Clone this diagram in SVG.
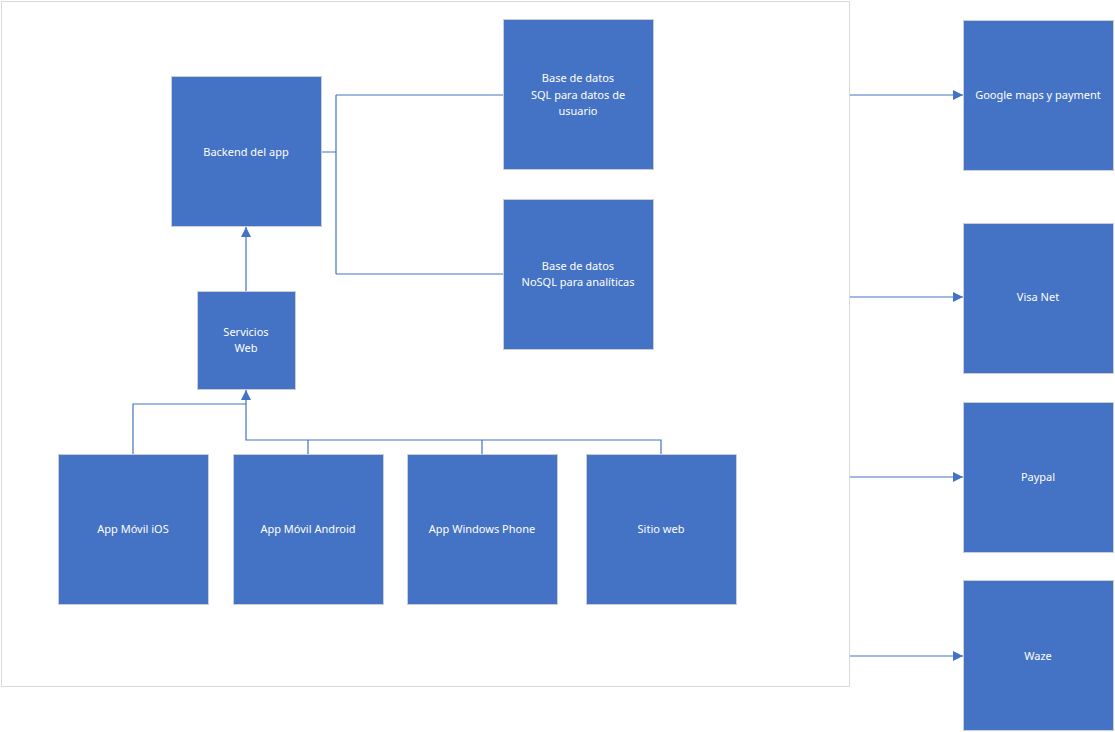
<svg xmlns="http://www.w3.org/2000/svg" width="1115" height="732" viewBox="0 0 1115 732">
<defs>
<marker id="arr" viewBox="0 0 10 10" refX="10" refY="5" markerWidth="10" markerHeight="10" markerUnits="userSpaceOnUse" orient="auto">
<path d="M0,0 L10,5 L0,10 Z" fill="#4472C4"/>
</marker>
<style>
.box{fill:#4472C4;stroke:#C9CED6;stroke-width:1}
.t{font-family:"Noto Sans","Open Sans","Liberation Sans",sans-serif;font-size:11px;fill:#FFFFFF;text-anchor:middle}
.c{fill:none;stroke:#4472C4;stroke-width:1.2}
.ca{fill:none;stroke:#4472C4;stroke-width:1.2;marker-end:url(#arr)}
</style>
</defs>
<rect width="1115" height="732" fill="#FFFFFF"/>
<rect id="container" x="1.5" y="1.5" width="848" height="685" fill="none" stroke="#D9D9D9" stroke-width="1"/>
<g id="connectors">
<path class="c" d="M321,152 H336 M336,95 V274 M336,95 H503 M336,274 H503"/>
<path class="ca" d="M246,291 V227"/>
<path class="ca" d="M133,454 V404 H246 V390"/>
<path class="c" d="M246,404 V440 H661 V454 M308,440 V454 M482,440 V454"/>
<path class="ca" d="M850,95 H963"/>
<path class="ca" d="M850,297 H963"/>
<path class="ca" d="M850,477 H963"/>
<path class="ca" d="M850,656 H963"/>
</g>
<g id="backend"><rect class="box" x="171.5" y="76.5" width="150" height="150"/><text class="t" x="246" y="156">Backend del app</text></g>
<g id="sql"><rect class="box" x="503.5" y="19.5" width="150" height="150"/><text class="t" x="578" y="82">Base de datos</text><text class="t" x="578" y="99">SQL para datos de</text><text class="t" x="578" y="115">usuario</text></g>
<g id="nosql"><rect class="box" x="503.5" y="199.5" width="150" height="150"/><text class="t" x="578" y="270">Base de datos</text><text class="t" x="578" y="286">NoSQL para analíticas</text></g>
<g id="servicios"><rect class="box" x="197.5" y="291.5" width="98" height="98"/><text class="t" x="246" y="336">Servicios</text><text class="t" x="246" y="352">Web</text></g>
<g id="ios"><rect class="box" x="58.5" y="454.5" width="150" height="150"/><text class="t" x="133" y="533">App Móvil iOS</text></g>
<g id="android"><rect class="box" x="233.5" y="454.5" width="150" height="150"/><text class="t" x="308" y="533">App Móvil Android</text></g>
<g id="windows"><rect class="box" x="407.5" y="454.5" width="150" height="150"/><text class="t" x="482" y="533">App Windows Phone</text></g>
<g id="sitio"><rect class="box" x="586.5" y="454.5" width="150" height="150"/><text class="t" x="661" y="533">Sitio web</text></g>
<g id="google"><rect class="box" x="963.5" y="20.5" width="150" height="150"/><text class="t" x="1038" y="99">Google maps y payment</text></g>
<g id="visa"><rect class="box" x="963.5" y="223.5" width="150" height="150"/><text class="t" x="1038" y="301">Visa Net</text></g>
<g id="paypal"><rect class="box" x="963.5" y="402.5" width="150" height="150"/><text class="t" x="1038" y="481">Paypal</text></g>
<g id="waze"><rect class="box" x="963.5" y="580.5" width="150" height="150"/><text class="t" x="1038" y="660">Waze</text></g>
</svg>
